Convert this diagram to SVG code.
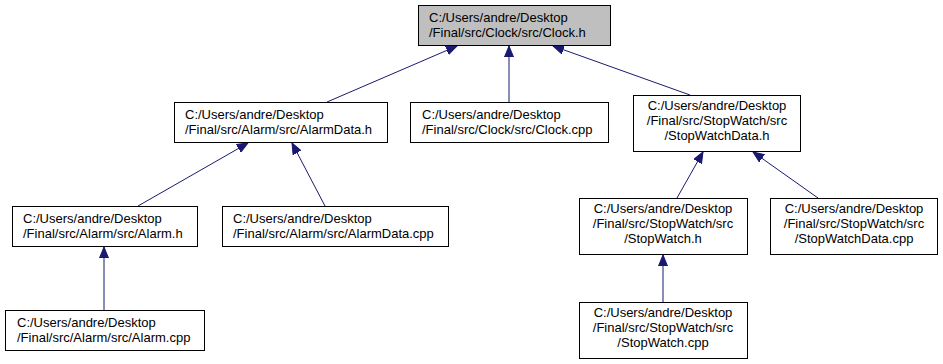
<svg xmlns="http://www.w3.org/2000/svg" width="943" height="364" viewBox="0 0 943 364">
<style>
.box{fill:#ffffff;stroke:#000000;stroke-width:1}
.root{fill:#bfbfbf}
.lbl{font-family:"Liberation Sans",Arial,sans-serif;font-size:13px;fill:#000000}
.mid{text-anchor:middle}
.edge{stroke:#191970;stroke-width:1;fill:none;marker-end:url(#arr)}
</style>
<defs>
<marker id="arr" markerUnits="userSpaceOnUse" markerWidth="12" markerHeight="10" viewBox="0 -5 12 10" refX="11" refY="0" orient="auto">
<path d="M0,-4.5 L11,0 L0,4.5 z" fill="#191970" stroke="#191970" stroke-width="1"/>
</marker>
</defs>
<rect width="943" height="364" fill="#ffffff"/>
<g id="connectors">
<line class="edge" x1="327" y1="102" x2="457" y2="46"/>
<line class="edge" x1="509" y1="102" x2="509" y2="46"/>
<line class="edge" x1="690" y1="95" x2="553" y2="46"/>
<line class="edge" x1="138" y1="206" x2="248" y2="143"/>
<line class="edge" x1="325" y1="206" x2="292" y2="143"/>
<line class="edge" x1="104" y1="310" x2="104" y2="247"/>
<line class="edge" x1="677" y1="198" x2="703" y2="152"/>
<line class="edge" x1="818" y1="198" x2="753" y2="152"/>
<line class="edge" x1="663" y1="302" x2="663" y2="255"/>
</g>
<g id="clock_h">
<rect class="box root" x="418.5" y="5.5" width="192" height="40"/>
<text class="lbl" x="429" y="22">C:/Users/andre/Desktop</text>
<text class="lbl" x="429" y="37">/Final/src/Clock/src/Clock.h</text>
</g>
<g id="alarmdata_h">
<rect class="box" x="174.5" y="102.5" width="213" height="40"/>
<text class="lbl" x="185" y="119">C:/Users/andre/Desktop</text>
<text class="lbl" x="185" y="134">/Final/src/Alarm/src/AlarmData.h</text>
</g>
<g id="clock_cpp">
<rect class="box" x="410.5" y="102.5" width="198" height="40"/>
<text class="lbl" x="422" y="119">C:/Users/andre/Desktop</text>
<text class="lbl" x="422" y="134">/Final/src/Clock/src/Clock.cpp</text>
</g>
<g id="stopwatchdata_h">
<rect class="box" x="633.5" y="95.5" width="167" height="56"/>
<text class="lbl mid" x="717" y="110">C:/Users/andre/Desktop</text>
<text class="lbl mid" x="717" y="125">/Final/src/StopWatch/src</text>
<text class="lbl mid" x="717" y="140">/StopWatchData.h</text>
</g>
<g id="alarm_h">
<rect class="box" x="12.5" y="206.5" width="185" height="40"/>
<text class="lbl" x="23" y="223">C:/Users/andre/Desktop</text>
<text class="lbl" x="23" y="238">/Final/src/Alarm/src/Alarm.h</text>
</g>
<g id="alarmdata_cpp">
<rect class="box" x="222.5" y="206.5" width="226" height="40"/>
<text class="lbl" x="233" y="223">C:/Users/andre/Desktop</text>
<text class="lbl" x="233" y="238">/Final/src/Alarm/src/AlarmData.cpp</text>
</g>
<g id="stopwatch_h">
<rect class="box" x="579.5" y="198.5" width="168" height="56"/>
<text class="lbl mid" x="663" y="213">C:/Users/andre/Desktop</text>
<text class="lbl mid" x="663" y="228">/Final/src/StopWatch/src</text>
<text class="lbl mid" x="663" y="243">/StopWatch.h</text>
</g>
<g id="stopwatchdata_cpp">
<rect class="box" x="770.5" y="198.5" width="167" height="56"/>
<text class="lbl mid" x="854" y="213">C:/Users/andre/Desktop</text>
<text class="lbl mid" x="854" y="228">/Final/src/StopWatch/src</text>
<text class="lbl mid" x="854" y="243">/StopWatchData.cpp</text>
</g>
<g id="alarm_cpp">
<rect class="box" x="5.5" y="310.5" width="199" height="40"/>
<text class="lbl" x="17" y="327">C:/Users/andre/Desktop</text>
<text class="lbl" x="17" y="342">/Final/src/Alarm/src/Alarm.cpp</text>
</g>
<g id="stopwatch_cpp">
<rect class="box" x="579.5" y="302.5" width="168" height="56"/>
<text class="lbl mid" x="663" y="317">C:/Users/andre/Desktop</text>
<text class="lbl mid" x="663" y="332">/Final/src/StopWatch/src</text>
<text class="lbl mid" x="663" y="347">/StopWatch.cpp</text>
</g>
</svg>
